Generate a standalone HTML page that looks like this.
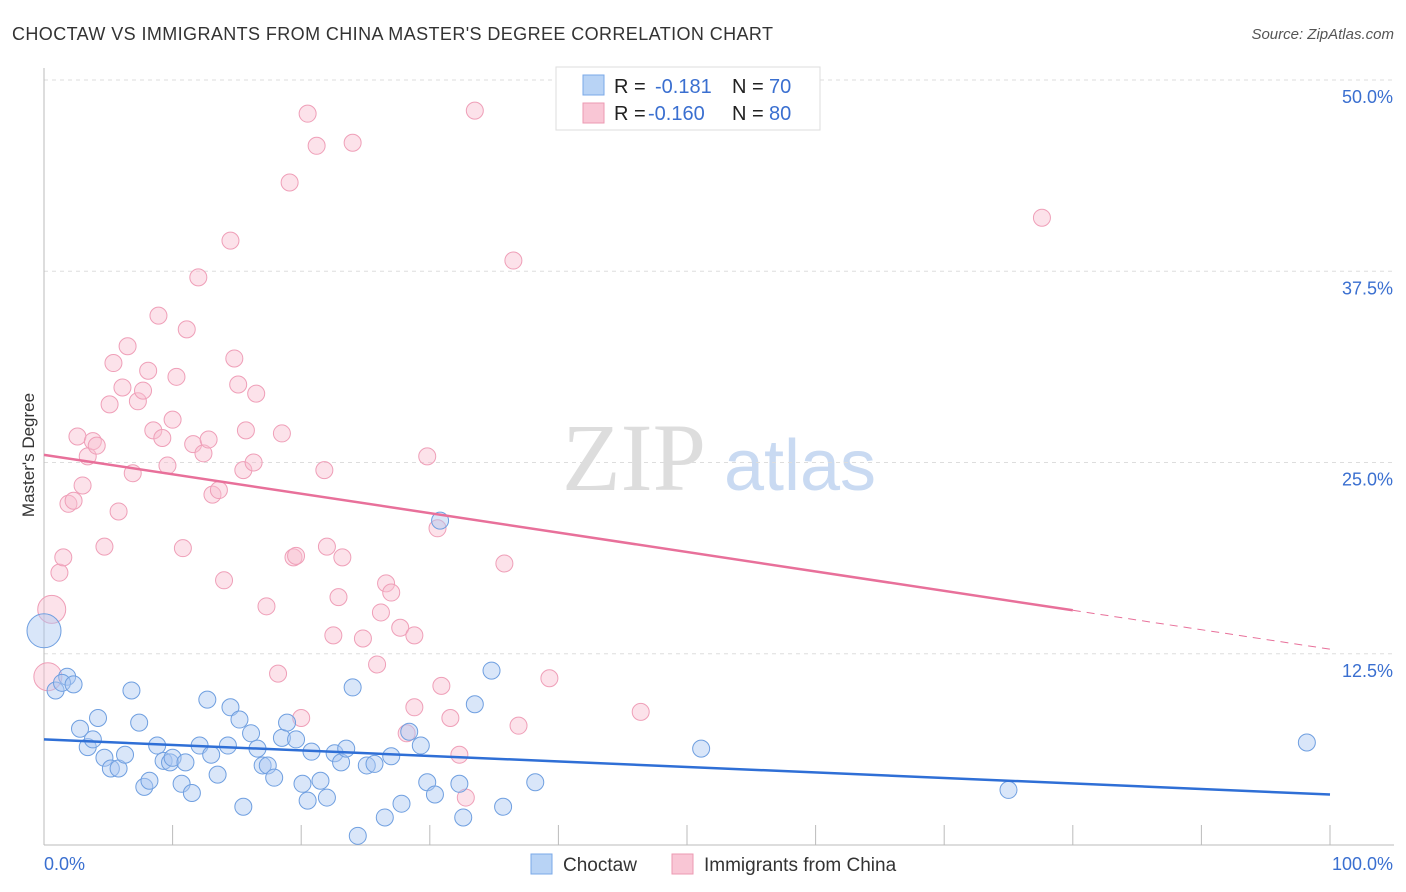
<!DOCTYPE html>
<html><head><meta charset="utf-8"><style>
body{margin:0;background:#fff;font-family:"Liberation Sans",sans-serif;}
</style></head><body>
<svg id="c" width="1406" height="892" xmlns="http://www.w3.org/2000/svg" style="display:block">
<text x="12" y="40" font-size="18" fill="#333" textLength="761">CHOCTAW VS IMMIGRANTS FROM CHINA MASTER'S DEGREE CORRELATION CHART</text>
<text x="1394" y="39" font-size="15" fill="#555" font-style="italic" text-anchor="end">Source: ZipAtlas.com</text>
<text x="634" y="490" font-size="96" fill="#ddd" font-family="Liberation Serif" text-anchor="middle">ZIP</text>
<text x="800" y="490" font-size="72" fill="#c9daf2" text-anchor="middle">atlas</text>
<text transform="translate(34,455) rotate(-90)" font-size="17" fill="#333" text-anchor="middle">Master's Degree</text>
<g id="grid"></g><g id="marks"></g>
<g>
<rect x="556" y="67" width="264" height="63" fill="#fff" stroke="#ddd"/>
<rect x="583" y="75" width="21" height="20" fill="#b8d3f5" stroke="#7aa8e8"/>
<rect x="583" y="103" width="21" height="20" fill="#f9c6d5" stroke="#ec9ab2"/>
<text y="93" font-size="20" fill="#222"><tspan x="614">R =</tspan><tspan x="655" fill="#3a6fd0">-0.181</tspan><tspan x="732">N =</tspan><tspan x="769" fill="#3a6fd0">70</tspan></text>
<text y="120" font-size="20" fill="#222"><tspan x="614">R =</tspan><tspan x="648" fill="#3a6fd0">-0.160</tspan><tspan x="732">N =</tspan><tspan x="769" fill="#3a6fd0">80</tspan></text>
</g>
<g>
<rect x="531" y="854" width="21" height="20" fill="#b8d3f5" stroke="#7aa8e8"/>
<text x="563" y="871" font-size="19" fill="#333">Choctaw</text>
<rect x="672" y="854" width="21" height="20" fill="#f9c6d5" stroke="#ec9ab2"/>
<text x="704" y="871" font-size="19" fill="#333">Immigrants from China</text>
</g>
</svg>
<script>
const blueX=[0,0.9,1.8,1.4,2.3,2.8,3.4,3.8,4.2,4.7,5.2,5.8,6.3,6.8,7.4,7.8,8.2,8.8,9.3,9.8,10.0,10.7,11.0,11.5,12.1,12.7,13.0,13.5,14.3,14.5,15.2,15.5,16.1,16.6,17.0,17.4,17.9,18.5,18.9,19.6,20.1,20.5,20.8,21.5,22.0,22.6,23.1,23.5,24.0,24.4,25.1,25.7,26.5,27.0,27.8,28.4,29.3,29.8,30.4,30.8,32.3,32.6,33.5,34.8,35.7,38.2,51.1,75.0,98.2];
const blueY=[14.0,10.1,11.0,10.6,10.5,7.6,6.4,6.9,8.3,5.7,5.0,5.0,5.9,10.1,8.0,3.8,4.2,6.5,5.5,5.4,5.7,4.0,5.4,3.4,6.5,9.5,5.9,4.6,6.5,9.0,8.2,2.5,7.3,6.3,5.2,5.2,4.4,7.0,8.0,6.9,4.0,2.9,6.1,4.2,3.1,6.0,5.4,6.3,10.3,0.6,5.2,5.3,1.8,5.8,2.7,7.4,6.5,4.1,3.3,21.2,4.0,1.8,9.2,11.4,2.5,4.1,6.3,3.6,6.7];
const pinkX=[0.6,0.3,1.2,1.5,1.9,2.3,3.0,2.6,3.4,3.8,4.1,4.7,5.1,5.4,5.8,6.1,6.5,6.9,7.3,7.7,8.1,8.5,8.9,9.2,9.6,10.0,10.3,10.8,11.1,11.6,12.0,12.4,12.8,13.1,13.6,14.0,14.5,14.8,15.1,15.5,15.7,16.3,16.5,17.3,18.2,18.5,19.1,19.4,19.6,20.0,20.5,21.2,21.8,22.0,22.5,22.9,23.2,24.0,24.8,25.9,26.2,26.6,27.0,27.7,28.2,28.8,28.8,29.8,30.6,30.9,31.6,32.3,32.8,33.5,35.8,36.5,36.9,39.3,46.4,77.6];
const pinkY=[15.4,11.0,17.8,18.8,22.3,22.5,23.5,26.7,25.4,26.4,26.1,19.5,28.8,31.5,21.8,29.9,32.6,24.3,29.0,29.7,31.0,27.1,34.6,26.6,24.8,27.8,30.6,19.4,33.7,26.2,37.1,25.6,26.5,22.9,23.2,17.3,39.5,31.8,30.1,24.5,27.1,25.0,29.5,15.6,11.2,26.9,43.3,18.8,18.9,8.3,47.8,45.7,24.5,19.5,13.7,16.2,18.8,45.9,13.5,11.8,15.2,17.1,16.5,14.2,7.3,13.7,9.0,25.4,20.7,10.4,8.3,5.9,3.1,48.0,18.4,38.2,7.8,10.9,8.7,41.0];
const blueTrend=[6.9,3.3];
const pinkTrend=[25.5,12.8];
const yTicks=[12.5,25,37.5,50];
const yTickLabels=["12.5%","25.0%","37.5%","50.0%"];
const ns="http://www.w3.org/2000/svg";
const sx=v=>44+v*12.86, sy=v=>845-v*15.3;
function mk(t,a,p){const e=document.createElementNS(ns,t);for(const k in a)e.setAttribute(k,a[k]);p.appendChild(e);return e;}
const g=document.getElementById('grid'),m=document.getElementById('marks');
yTicks.forEach((t,i)=>{const l=mk('line',{x1:44,x2:1394,y1:sy(t),y2:sy(t),stroke:'#ddd','stroke-dasharray':'4,4'},g);


const tx=mk('text',{x:1393,y:sy(t)+23,'font-size':18,fill:'#3a6fd0','text-anchor':'end'},g);tx.textContent=yTickLabels[i];

});
const ax=mk('line',{x1:44,x2:44,y1:68,y2:845,stroke:'#bbb'},g);


const bx=mk('line',{x1:44,x2:1394,y1:845,y2:845,stroke:'#bbb'},g);


for(let i=0;i<=10;i++){const t=mk('line',{x1:sx(i*10),x2:sx(i*10),y1:825,y2:845,stroke:'#bbb'},g);

}
[["0.0%",44,'start'],["100.0%",1393,'end']].forEach(a=>{const t=mk('text',{x:a[1],y:870,'font-size':18,fill:'#3a6fd0','text-anchor':a[2]},g);t.textContent=a[0];

});
pinkX.forEach((x,i)=>{const c=mk('circle',{cx:sx(x),cy:sy(pinkY[i]),r:i<2?14:8.5,fill:'rgba(249,190,208,0.45)',stroke:'#ef9fb8','stroke-width':1},m);

});
blueX.forEach((x,i)=>{const c=mk('circle',{cx:sx(x),cy:sy(blueY[i]),r:i<1?17:8.5,fill:'rgba(170,200,242,0.45)',stroke:'#6f9fe0','stroke-width':1},m);

});
const pm=pinkTrend[0]+(pinkTrend[1]-pinkTrend[0])*0.8;
let l=mk('line',{x1:sx(0),y1:sy(pinkTrend[0]),x2:sx(80),y2:sy(pm),stroke:'#e8709a','stroke-width':2.5},m);


l=mk('line',{x1:sx(80),y1:sy(pm),x2:sx(100),y2:sy(pinkTrend[1]),stroke:'#e8709a','stroke-width':1,'stroke-dasharray':'8,6'},m);


l=mk('line',{x1:sx(0),y1:sy(blueTrend[0]),x2:sx(100),y2:sy(blueTrend[1]),stroke:'#2f6fd6','stroke-width':2.5},m);


</script>
</body></html>
